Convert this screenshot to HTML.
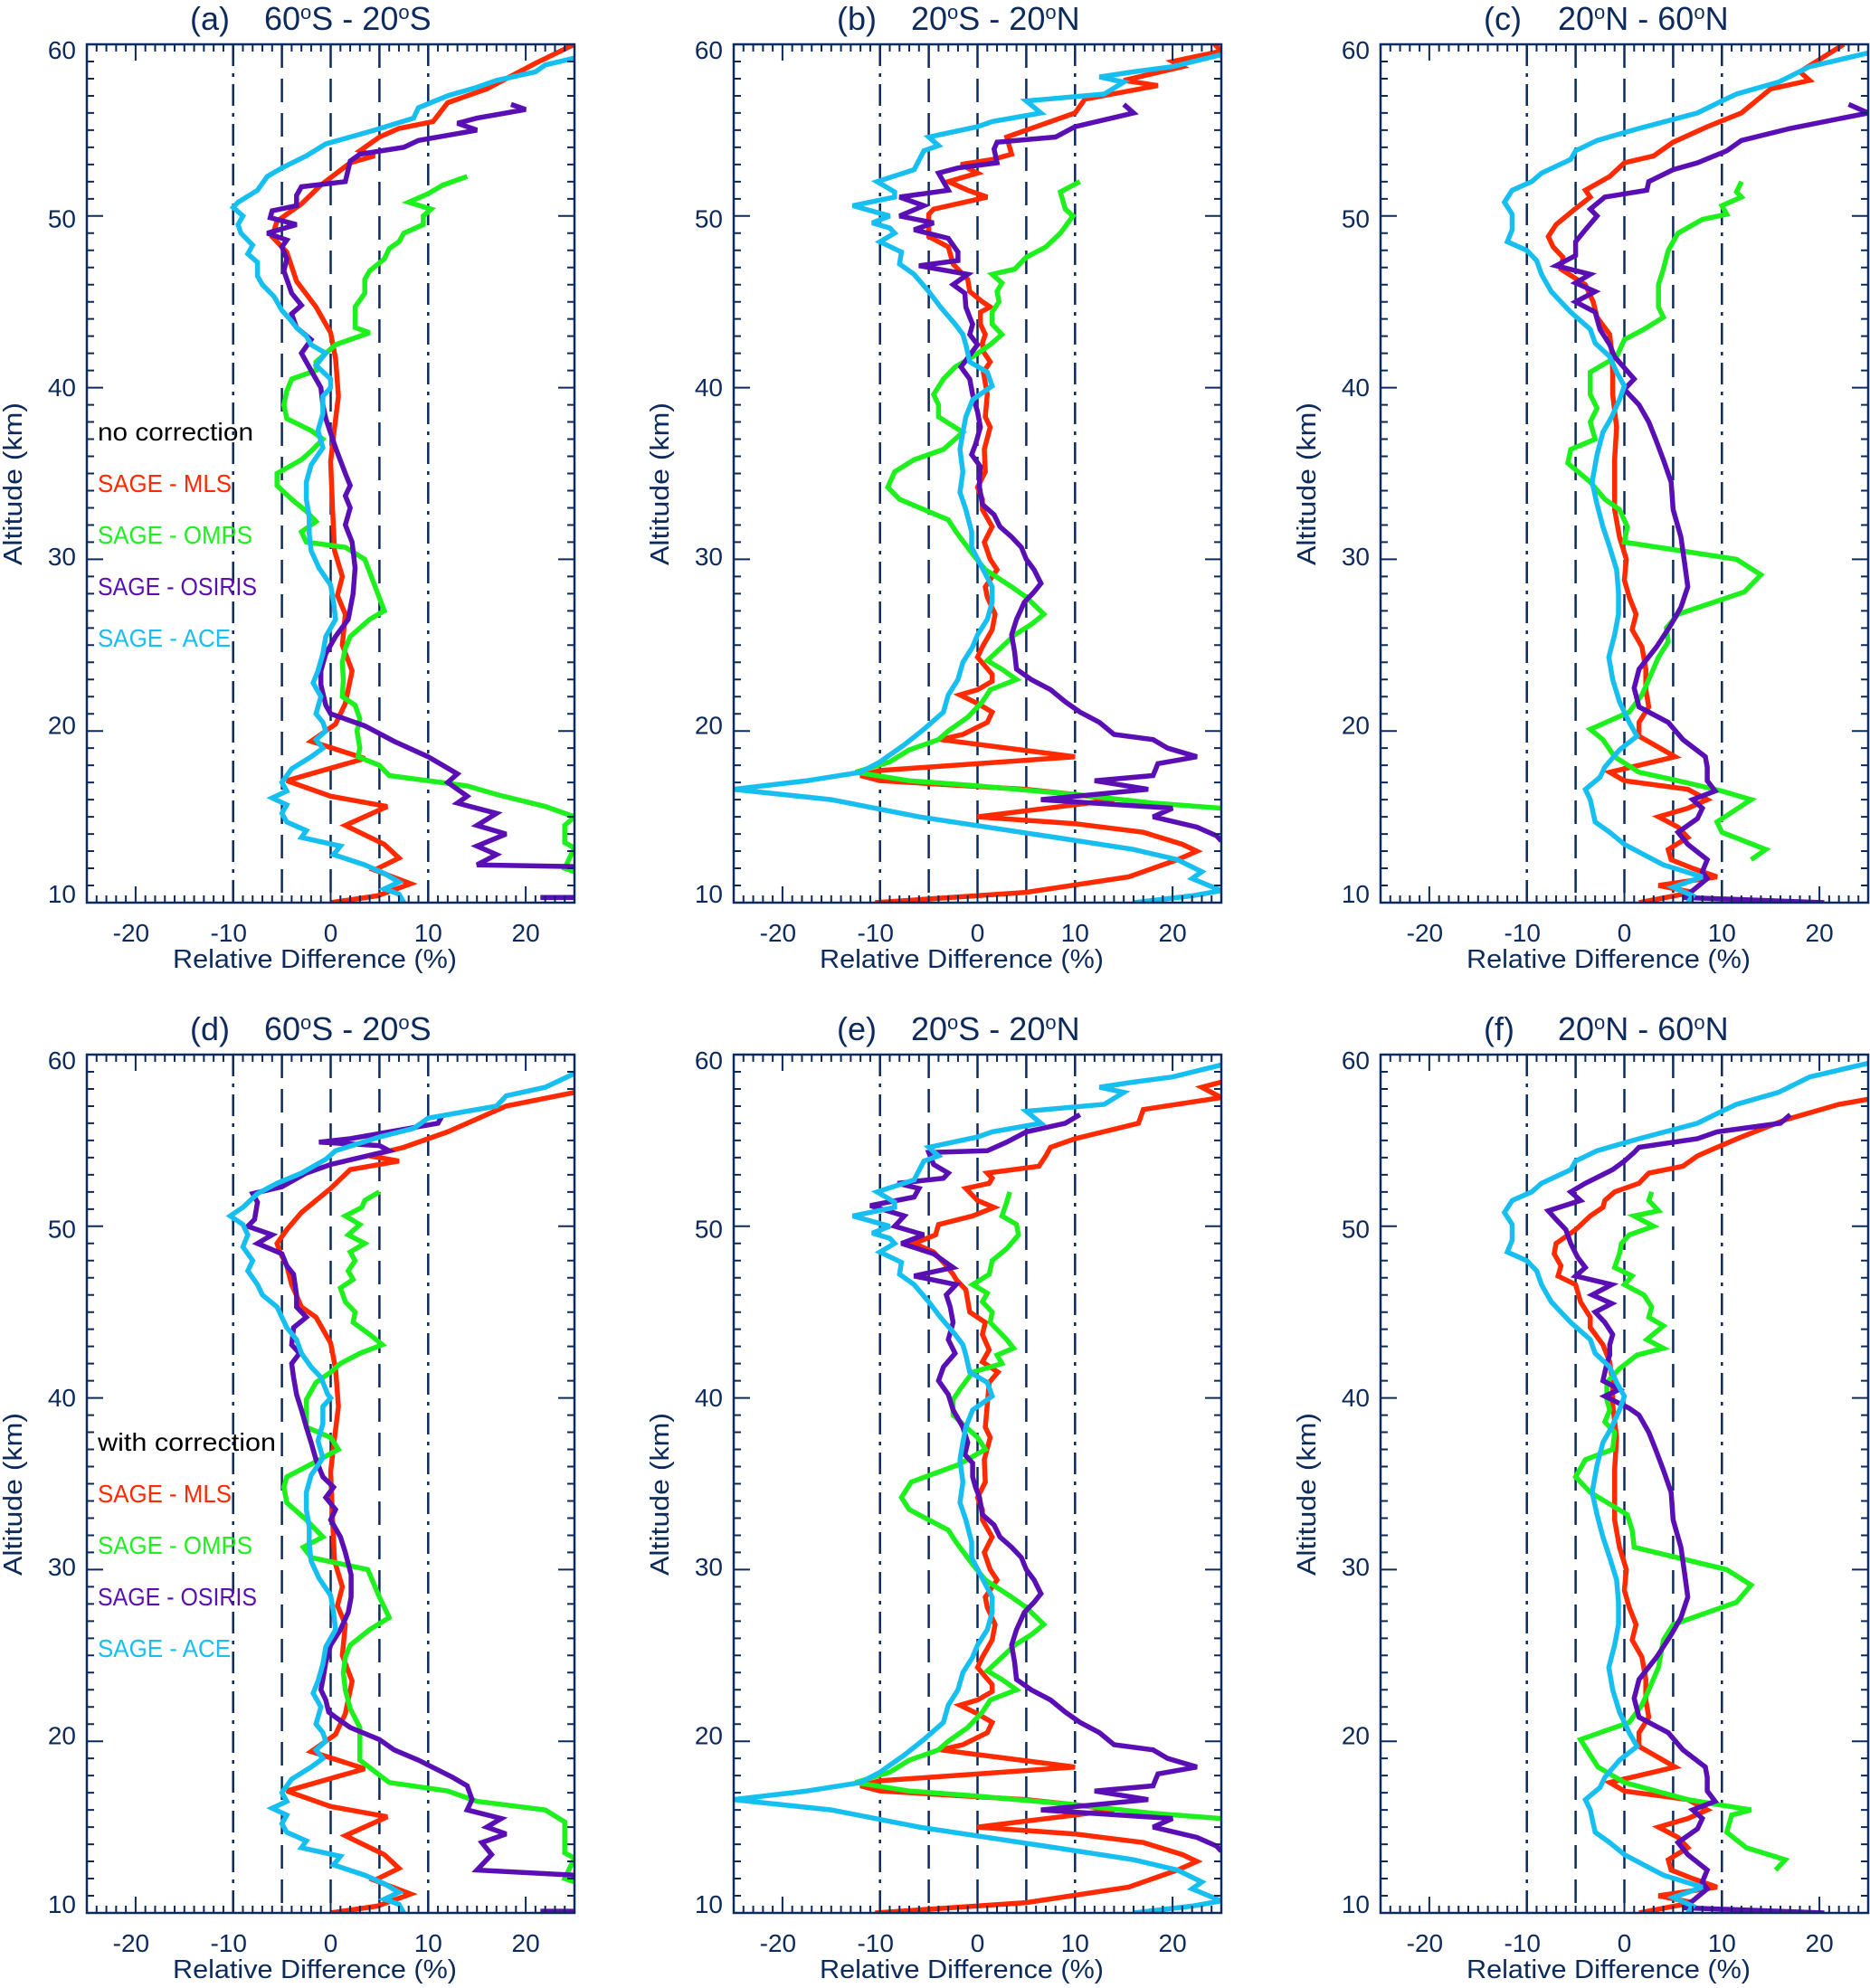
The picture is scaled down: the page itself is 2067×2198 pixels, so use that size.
<!DOCTYPE html>
<html><head><meta charset="utf-8"><style>
html,body{margin:0;padding:0;background:#fff;}
svg{display:block;font-family:"Liberation Sans",sans-serif;}
</style></head>
<body>
<svg id="fig" width="2067" height="2198" viewBox="0 0 2067 2198" xmlns="http://www.w3.org/2000/svg"></svg>
<script>
// ---------- data: [altitude km, relative difference %] ----------
const aMLS=[[60,25],[58.9,21],[57.4,16],[56.6,12],[55.5,10.5],[55.1,7],[54.6,5],[53.8,3],[53.5,4.5],[53.1,2],[51.8,-1],[50.7,-3],[49.7,-5.5],[48.8,-6],[47.9,-4.5],[46.2,-3.5],[44.7,-1.5],[43.2,0],[41.7,0.5],[39.5,0.8],[37.2,0.3],[35.7,0],[32.8,0.2],[30.5,0.4],[29,1.2],[27.9,0.7],[26.8,1.5],[25,1.2],[23.5,2.2],[21.6,1.5],[20.4,0.5],[19.4,-2],[18.4,3.5],[17.1,-4.5],[16.2,0],[15.6,5.8],[14.5,1.5],[13.4,5.5],[12.6,7],[11.9,4.5],[11.1,8.2],[10.4,4.8],[10,0]];
const aOSI=[[56.5,18.5],[56.2,20],[55.7,15],[55.4,13],[55,15],[54.4,9],[54,7.5],[53.6,3],[53.2,2],[52,1.5],[51.7,-3],[51.2,-3.5],[50.6,-3.5],[50.3,-6],[49.9,-6.2],[49.5,-3.5],[49,-6.5],[48.6,-4.5],[48.2,-5],[47.5,-4.5],[46.8,-4.8],[45.5,-4],[44.8,-3],[44.3,-4],[43.5,-3.5],[42.8,-2],[42,-3],[41,-2],[40,-1],[39,-0.8],[38.2,-0.5],[36.5,0.5],[35,1.5],[34.3,2],[33.7,1.5],[33,2],[32,1.5],[31,2.2],[29.5,2.5],[28,2.3],[26.5,1.8],[25.5,0.5],[24.5,-0.5],[23.5,-1],[22.7,-1],[21.5,-0.5],[21,0],[20.3,3.5],[19.4,6.5],[18.5,10],[17.5,13],[17,12],[16.2,14],[15.8,13],[15.2,17],[14.5,15],[14,18],[13.3,15],[12.8,17],[12.2,15],[12.1,25],[null,null],[10.3,21.5],[10.3,25]];
const aOMPS=[[52.3,14],[51.8,11.5],[51.3,10],[50.8,8],[50.4,10.3],[50,9.5],[49.5,9.5],[49,7.5],[48.5,7],[48.1,6],[47.5,5.5],[46.8,4],[46.3,3.5],[45.5,3.5],[44.7,2.5],[44,2.5],[43.5,2.5],[43.2,4],[42.5,0.5],[42,-0.5],[41.5,-1.5],[41,-1.5],[40.5,-4],[39.8,-4.5],[39,-4.8],[38.2,-4.5],[37.5,-2],[37,-0.8],[36.3,-2],[35.8,-3],[35,-5.5],[34.3,-5.5],[33.5,-4],[32.8,-2.5],[32.2,-1.5],[31.6,-3],[31,-2.5],[30.7,1.5],[30,3.5],[28.5,4.5],[27,5.5],[26.5,4],[25.5,2],[24.8,1.5],[24,1.2],[23,1.3],[22,1.2],[21.5,2.5],[20.7,3],[20,2.7],[19,3],[18.5,2.8],[18,5],[17.4,6],[16.8,14],[16.3,17],[15.6,22],[15,25],[14.5,24],[13.5,24],[13.2,25],[12,24],[11.8,25]];
const aACE=[[59.2,25],[58.8,22],[58.4,21],[57.9,17],[57.5,15],[57,12],[56.3,9],[55.7,8.5],[55,4.5],[54.6,2],[54.2,-0.5],[53.5,-2.5],[52.8,-5],[52.3,-6.5],[51.5,-7.5],[50.8,-9.5],[50.5,-10],[50,-9],[49.5,-9.5],[49,-9.2],[48.3,-8],[47.8,-8.5],[47.3,-7.5],[46.5,-7.5],[46,-7],[45.3,-5.8],[44.5,-5],[44,-4.2],[43.5,-3.5],[43,-2.5],[42.5,-2],[42,-0.5],[41.3,-1.5],[40.5,0],[40,0],[39.5,-0.8],[38.5,-0.8],[37.5,-1.3],[36.5,-0.8],[35.5,-2],[34.5,-2.5],[33.5,-2.5],[32.5,-2.2],[31.5,-2.2],[30.5,-2],[29.5,-1.2],[28.5,0],[27.5,0.3],[26.5,0.5],[25.5,-0.5],[24.5,-0.8],[23.5,-1.3],[22.8,-1.8],[22,-1],[21,-1.5],[20.5,-0.8],[20,-0.5],[19.5,-1.5],[19,-0.8],[18.5,-2],[17.8,-4],[17,-5],[16.5,-4.5],[16.1,-6],[15.7,-4.5],[15.2,-5],[14.7,-4.5],[14.2,-2.5],[13.8,-3],[13.3,1],[12.8,0.3],[12.2,3.5],[11.7,5.5],[11.2,7],[10.8,5.5],[10.5,7],[10,7.5]];

const bMLS=[[60,24.3],[59.6,25],[59,20],[58.7,21],[57.9,15],[57.6,18.5],[56.8,11],[56,10],[54.6,3],[53.6,3.5],[53.3,1.6],[53,-1.7],[52.5,0],[52,-3],[51.5,-1],[51.1,1],[50.4,-4.5],[50.1,-5],[48.8,-5],[48.2,-3],[47.2,-2.5],[46.3,-1],[45.6,-0.8],[45,0.5],[44.7,1.3],[44.4,0.3],[43.7,0.3],[43.1,0.8],[42.6,0.5],[42.1,0.6],[41.5,1.3],[40.9,0.6],[39.6,1],[38.3,0.8],[37.7,1.3],[36.4,0.7],[35.1,0.8],[34.2,0],[33.5,0.5],[32.9,0.5],[31.9,1.5],[31,0.7],[30,1.3],[29.4,2],[28.4,0.8],[27.8,1],[26.8,1.8],[25.9,1.5],[24.9,0.5],[24.3,0],[23.3,1.5],[22.9,1.5],[22.4,0],[22.1,-1.8],[21.6,0],[21.1,1.5],[20.5,1],[19.8,-1.5],[19.5,-3.8],[18.5,10],[17.7,-10],[17.4,-12],[17.1,-10],[16.6,5],[16.3,10],[16,14],[15.7,10],[15,0],[14.6,10],[14.1,17],[13.4,21],[13,22.5],[12.5,20.5],[12,18],[11.5,15.5],[10.6,5],[10,-10.5]];
const bOSI=[[56.5,15],[56,16],[55.2,10],[54.6,8],[54.3,2],[53.9,1.7],[53.1,2],[52.8,-2],[52.5,-4],[52,-3.5],[51.5,-3],[51.1,-8],[50.6,-5.5],[50,-8],[49.6,-4.5],[49.2,-6.5],[48.7,-3],[47.9,-2],[47.4,-2],[47.1,-6],[46.6,-1],[46,-2.5],[45.5,-1.3],[44.7,-1.2],[44.1,-0.8],[43.7,-0.5],[43.1,-0.8],[42.5,0],[41.2,-1.7],[40.5,-0.8],[39.6,-0.5],[38.6,0],[37.7,0.3],[36.7,-0.2],[36.1,-0.6],[35.4,0.3],[34.8,0.2],[34.2,0.2],[33.2,0.5],[32.6,1.7],[31.9,2.3],[31.3,3.5],[30.7,4.5],[30,5],[29.4,5.8],[28.6,6.5],[28.1,5.8],[27.5,4.8],[26.5,4],[25.6,3.5],[24.6,3.8],[23.6,4],[23,5.5],[22.4,7.5],[21.7,9],[21.1,10.5],[20.5,12.5],[19.8,14],[19.5,18],[19,19.5],[18.5,22.5],[18.1,18.5],[17.4,18],[17.1,12],[16.6,17.5],[16,6.5],[15.5,20],[15,18],[14.4,22.5],[13.9,24.5],[13.6,25]];
const bOMPS=[[52,10.5],[51.4,8.5],[50.4,9],[50,9.8],[49,8.5],[48.2,7],[47.6,5],[46.9,3.8],[46.6,1.5],[46.1,2.5],[45.6,2],[45,2.2],[44.4,1.5],[43.7,1.5],[43.1,2.5],[42.5,1.3],[41.8,-0.5],[41.2,-2.3],[40.5,-3.5],[39.6,-4.5],[39,-4],[38.3,-4],[37.4,-1.5],[36.4,-3.5],[35.8,-6.5],[35.1,-8.5],[34.2,-9.2],[33.5,-8],[32.9,-5.5],[32.3,-3],[31.6,-2.2],[30.3,-0.5],[29.4,0.8],[28.4,3.5],[27.8,5],[26.8,6.8],[26.2,5.5],[25.6,3.8],[24.9,2.5],[24.1,1],[23.6,2.5],[23,4],[22.4,1.3],[21.7,0.5],[20.8,-1],[20,-3],[19.5,-4],[18.9,-7],[18.2,-9],[17.6,-12.5],[17.1,-7],[16.8,0],[16.3,10],[15.8,18],[15.5,25]];
const bACE=[[59.4,25],[58.7,20],[58.4,16],[58.1,12.5],[57.8,15],[57.1,13],[56.7,5],[56,6.5],[55.5,1.5],[55.2,0],[54.6,-5],[54.1,-4],[53.8,-5.5],[52.7,-6.5],[52,-10.3],[51.4,-8.5],[51.1,-8.5],[50.6,-12.8],[50,-9],[49.6,-10.8],[49.3,-9],[49,-8.5],[48.5,-10],[47.9,-7.8],[47.2,-8],[46.6,-6.5],[45.6,-5],[44.7,-3.8],[43.7,-2.3],[43.1,-1.5],[42.5,-1.2],[41.5,-0.8],[40.9,1],[40.1,1.5],[39.3,-0.5],[38.3,-1.2],[37.4,-1.5],[36.4,-1.8],[35.1,-1.5],[33.9,-1.8],[32.9,-1.2],[31.6,-0.6],[30.7,-0.6],[29.7,0.3],[28.4,1.5],[27.5,1.5],[26.5,1],[25.6,0],[24.9,-0.5],[24,-1.5],[23,-2],[22.1,-3],[21.1,-3.5],[20.1,-5.5],[19.2,-7.5],[18.2,-10],[17.6,-12],[17.1,-17.5],[16.6,-25],[16,-15],[15,-6],[13.8,8],[13.1,16],[12.5,20.5],[11.8,23],[11.4,22],[10.7,25],[10.4,22],[10,16]];

const cMLS=[[60,22.5],[58.4,18],[57.9,19],[57.4,15],[56,12],[55.2,8.5],[54.3,5],[53.5,3],[53.1,0],[52.3,-1.5],[51.5,-4],[51.1,-3.5],[50.3,-5.3],[49.5,-7],[48.8,-7.8],[48.2,-7.3],[47.6,-6.3],[46.9,-6.5],[46,-4],[45,-3.2],[44.1,-2.8],[43.1,-1.5],[42.1,-1.3],[40.9,-1.2],[39.6,-1.2],[37.7,-0.8],[35.8,-1],[34.5,-1],[32.9,-1],[31.3,-0.5],[30,0.2],[28.8,0],[27.8,0.5],[26.8,1.2],[25.9,0.8],[24.9,1.8],[23.6,2.2],[22.4,2.2],[21.4,2.5],[20.5,1.5],[19.7,1.5],[18.5,5.2],[17.6,-1.5],[17.1,0],[16.6,6.5],[16,8.5],[15.5,6.5],[15,3.5],[14.4,5.5],[13.8,6.5],[13.1,4.5],[12.5,4.8],[12,7],[11.5,9.5],[11,3.5],[10.6,7],[10,1.5]];
const cOSI=[[56.5,23],[56,25],[55.1,17],[54.4,12],[53.8,10.5],[53.1,7.5],[52.7,5],[52,2.5],[51.5,2.3],[51.1,-2],[50.4,-3.5],[50,-2.8],[49.2,-4],[48.5,-5],[47.7,-5],[47.1,-7],[46.6,-3.5],[46.1,-5],[45.6,-3],[45,-5],[44.4,-3],[43.4,-2.5],[42.5,-1.5],[41.8,-1],[40.5,1],[39.9,0],[39,1.5],[38,2.5],[37,3.2],[35.8,4],[34.5,4.8],[32.9,5],[31.3,5.8],[29.7,6.2],[28.4,6.5],[27.2,5.8],[26.2,4.8],[24.9,3.3],[23.6,1.5],[22.5,1],[21.4,1.5],[20.5,4.5],[19.5,6],[18.5,8.3],[17.9,8.5],[17.1,8.5],[16.5,9.3],[16,7],[15.5,8],[14.9,7.5],[14.1,5.5],[13.4,6.5],[12.5,8.5],[11.8,8],[11.4,8.5],[10.7,7],[10.3,6],[10,20.5]];
const cOMPS=[[52,12],[51.4,11.5],[51.1,12],[50.6,10],[50.1,10.5],[49.8,8],[49,5.5],[48,4.5],[46.9,4],[46,3.5],[44.7,3.5],[44.1,4],[43.4,2],[42.8,0],[41.8,-0.8],[40.9,-3.5],[39.6,-3.5],[38.8,-2.8],[38,-3.5],[37,-3],[36.4,-5.5],[35.6,-5.8],[34.5,-3.5],[33.5,-2],[32.9,-0.5],[31.9,0.3],[31,0],[30,11.5],[29.1,14],[28.1,12.3],[26.8,5.5],[26,4.3],[25.2,4.5],[24.3,3.5],[23,2.5],[22.1,1.8],[21.1,0.5],[20.1,-3.5],[19.5,-2.2],[18.5,-1],[17.6,1.5],[17.1,5.5],[16.5,10],[16,13],[14.7,9.5],[14.1,10],[13.1,14.5],[12.5,13]];
const cACE=[[59.5,25],[58.7,19],[57.8,15.8],[57.1,11.5],[56.7,10],[56,7.5],[55.1,1.5],[54.4,-2.8],[53.8,-5],[53.3,-5.5],[52.5,-8.5],[52,-9.5],[51.5,-11.5],[50.8,-12.3],[50.1,-11.5],[49.2,-11.5],[48.5,-12],[48,-10],[47.4,-9],[46.6,-8.5],[45.6,-7.5],[45,-6.5],[44.4,-5.5],[43.4,-3.5],[42.6,-3],[41.8,-1.5],[40.9,-0.8],[40.1,0],[39.3,-0.5],[38.3,-1.3],[37.4,-2.2],[36.1,-2.8],[34.5,-3.3],[33.2,-2.8],[31.9,-2.2],[30.7,-1.5],[29.4,-0.8],[28.1,-0.6],[26.8,-0.6],[25.6,-1],[24.3,-1.6],[23,-1.2],[21.7,-0.5],[20.5,0.5],[19.7,1.3],[18.9,-0.5],[17.9,-2],[17.3,-2.5],[16.6,-4],[16,-3.5],[14.7,-3],[14.1,-1.5],[13.4,0],[12.8,2],[12.2,4],[11.5,8],[10.9,5],[10.4,7],[10,6.5]];

// bottom row (with correction): upper parts differ
const dMLSTop=[[57.8,25],[57,18],[55.5,12],[55.1,10],[54.6,7.5],[54.1,4],[53.8,7],[53.3,2],[52.2,0],[51.5,-1.5],[50.8,-3],[49.8,-4.5],[49,-5.5],[48.5,-5.2],[47.7,-4.5],[46.6,-4],[45.3,-3]];
const dOSI=[[56.5,11.5],[56,11],[55.4,5],[55.1,2],[54.9,-1.2],[54.7,5],[54.4,6],[53.6,0],[53.1,-2.5],[52.3,-5],[51.9,-8],[51.4,-7.5],[50.4,-7.8],[50,-8.5],[49.5,-6],[49,-7.5],[48.4,-5],[47.7,-4.5],[47.2,-3.8],[46,-3.5],[45.3,-3.5],[44.7,-2.5],[44.1,-3.8],[43.1,-4],[42.6,-3.2],[42,-4],[41.2,-3.8],[40.2,-3.5],[39.3,-3],[38.3,-2.5],[37.4,-2],[36.4,-1.5],[35.4,-0.8],[34.8,0.3],[34.2,-0.5],[33.5,0.5],[32.9,0],[31.9,1],[31,1.5],[29.7,2.1],[28.4,2.1],[27.5,1.8],[26.5,1],[25.6,0],[24.6,-0.5],[23.6,-0.8],[23,-1],[22.4,-0.5],[21.7,-0.2],[21.4,0.5],[20.8,2],[20.1,5],[19.5,6.5],[18.9,9],[17.9,12.5],[17.4,14],[16.6,14.5],[16,14],[15.5,17.5],[15,16],[14.6,18],[14.1,15.5],[13.4,16.5],[12.5,15],[12.2,25],[null,null],[10.1,21.5],[10.1,25]];
const dOMPSTop=[[52,5],[51.5,3.5],[51.1,3.2],[50.6,1.5],[50.1,3],[49.5,1.8],[49,3.5],[48.5,2],[48,2.5],[47.4,1.8],[46.9,2.3],[46.4,1],[45.6,1.5],[45,2.5],[44.4,2.3],[43.7,4],[43.1,5.3],[42.6,3],[42,1],[41.5,0],[40.9,-1.5],[39.9,-2.5],[39.3,-2.5],[38.3,-2.5],[37.7,0],[37,0.8],[36.2,-1.8],[35.4,-4.5],[34.8,-4.8],[33.9,-4.5],[32.9,-2.5],[31.9,-0.8],[31.3,-2.8],[30.7,-2],[30,3.8],[28.4,5],[27.2,6],[26.5,4],[25.6,2],[24.9,1.5],[24,1.3],[23,1.5],[21.9,2],[20.8,3],[19.8,3],[18.9,3],[17.6,6],[17.1,12],[16.5,15],[16,22],[15.3,24],[14.4,24]];
const dACETop=[[58.9,25],[58.1,22],[57.6,18],[57,17],[56.3,10],[55.7,8.5],[55.2,5],[54.4,0.5],[53.9,-0.5],[53.1,-3],[52.5,-5.5],[51.9,-7.5],[51.1,-9],[50.6,-10.3],[50.1,-9],[49.5,-8.5],[48.8,-9],[48,-8],[47.4,-8.5],[46.6,-7.5],[46,-7],[45.3,-5.5],[44.7,-5],[44.1,-4.5],[43.4,-3.5],[42.6,-3],[41.8,-2],[41.2,-1],[40.2,-0.3]];

const eMLSTop=[[58.4,25],[58.1,23],[57.5,25],[56.8,17],[56,16.5],[55.1,10],[54.6,7.5],[54.1,7],[53.5,6.3],[53.1,1],[52.8,1.5],[52.5,1.2],[52.2,-1.2],[51.5,0],[51.1,1.7],[50.6,-0.5],[50.1,-4],[49.5,-4.3],[49,-6.5],[48.5,-4.5],[47.9,-3.5],[47.2,-2.5],[46.9,-2.2],[46.3,-1.2],[45,-0.8],[44.4,0.8],[43.7,0.5],[42.8,1.2],[42.1,0.5],[41.5,2.1],[40.9,1.2]];
const eOSITop=[[56.5,10.5],[56,9],[55.5,5],[54.9,3],[54.4,1],[54.3,-5],[53.6,-4.5],[53.1,-3],[52.8,-3.5],[52.5,-8.2],[52.2,-6],[51.7,-6.5],[51.2,-11],[50.6,-7.5],[50,-8.5],[49.5,-5.5],[49,-7.8],[48.4,-4.5],[47.6,-2.5],[47.1,-6.5],[46.6,-2.2],[46,-3.2],[45.3,-2.8],[44.4,-2.5],[43.4,-3],[42.6,-2.3],[41.8,-3.5],[41,-4],[40.2,-3],[39.3,-2.5],[38.3,-1.5],[37.4,-1],[36.7,-1.3],[36.2,-0.5],[35.4,-0.5],[34.8,-0.2]];
const eOMPSTop=[[52,3.3],[51.4,3],[50.6,2.5],[50.1,4],[49.5,4.2],[48.7,3],[48,1.5],[47.2,1.2],[46.6,-0.5],[46.1,1],[45.6,0.5],[45,1.5],[44.4,1.3],[43.4,3],[42.9,3.7],[42.5,2],[42,2.5],[41.5,-0.5],[40.5,-1.8],[39.9,-2.5],[39,-2.5],[37.7,0],[37,0.8],[36.1,-2],[35.1,-6.8],[34.2,-7.8],[33.5,-7],[32.9,-5]];

const fMLSTop=[[57.4,25],[57.1,22],[56.2,16.5],[55.2,12],[54.6,9.5],[54.1,7.5],[53.5,6],[53.1,2.5],[52.5,1.5],[52,-1],[51.5,-2],[51.1,-2.2],[50.6,-3.5],[49.8,-5],[49,-7],[48.4,-7.2],[47.7,-6.5],[47.1,-6.8],[46.6,-5],[45.6,-4.5],[44.7,-3.5],[44.1,-3.5],[43.1,-2.2],[42.1,-1.5],[40.9,-1.2]];
const fOSITop=[[56.5,17],[56,16],[55.5,9.5],[55.1,7.5],[54.6,1.5],[54.3,1],[53.8,0],[53.3,-1.2],[52.5,-4],[52,-5.5],[51.5,-4.5],[50.9,-7.8],[50.4,-7],[49.8,-6],[49,-5.5],[48.2,-4.8],[47.6,-4],[47.1,-5],[46.6,-1.3],[46,-3.3],[45.5,-1.3],[45,-3],[44.4,-2],[43.7,-1.2],[43.1,-1.5],[42.5,-1.5],[42,-1.8],[41,-2.2],[40.5,-0.5],[40.1,-2],[39.4,0.5]];
const fOMPSTop=[[52,2.8],[51.5,2.5],[50.9,3.5],[50.6,1],[50,3],[49.5,0.5],[49,-0.3],[48.4,-0.5],[47.6,-1],[47.1,0.8],[46.6,0],[46,2],[45.3,2.8],[44.7,2.5],[44.2,4],[43.4,2.3],[42.9,4],[42.5,1.3],[41.7,-0.5],[40.9,-1.8],[39.9,-1.8],[39.3,-1.5],[38.6,-2],[38,-1],[37,-1.2],[36.4,-4],[35.4,-5],[34.5,-3.5],[33.2,0.3],[32.3,0.8],[31.3,1],[30,10.5],[29.1,13],[28.1,11.5],[26.8,5],[25.9,4]];
const fOMPSBottom=[[24.3,3.5],[23,2.5],[22.1,1.8],[21.1,0.5],[20.1,-4.5],[19.2,-3.5],[18.5,-2.7],[17.6,0],[16.6,6.5],[16,13],[15.7,11],[14.7,10.5],[13.8,12.5],[13.1,16.5],[12.5,15.5]];

// assembled bottom-row series
const dMLS=dMLSTop.concat(aMLS.filter(p=>p[0]<45));
const dOMPS=dOMPSTop.concat(aOMPS.filter(p=>p[0]<14.4));
const dACE=dACETop.concat(aACE.filter(p=>p[0]<40.2));
const eMLS=eMLSTop.concat(bMLS.filter(p=>p[0]<40.9));
const eOSI=eOSITop.concat(bOSI.filter(p=>p[0]<34.8));
const eOMPS=eOMPSTop.concat(bOMPS.filter(p=>p[0]<32.9));
const eACE=bACE;
const fMLS=fMLSTop.concat(cMLS.filter(p=>p[0]<40.9));
const fOSI=fOSITop.concat(cOSI.filter(p=>p[0]<39.4));
const fOMPS=fOMPSTop.concat(fOMPSBottom);
const fACE=cACE;

const panelLabels=['(a)','(b)','(c)','(d)','(e)','(f)'];
const regionStart=[['60','S'],['20','S'],['20','N'],['60','S'],['20','S'],['20','N']];
const regionEnd=[['20','S'],['20','N'],['60','N'],['20','S'],['20','N'],['60','N']];
const xTicks=[-20,-10,0,10,20];
const yTicks=[10,20,30,40,50,60];
const refSolid=[-10,10];   // dash-dot lines
const refDash=[-5,0,5];    // dashed lines
const legendTitles=['no correction','with correction'];
const legendTitleWidths=[172,197];
const legendNames=['SAGE - MLS','SAGE - OMPS','SAGE - OSIRIS','SAGE - ACE'];
const legendWidths=[148,171,176,147];

const panelSeries=[
 [aMLS,aOMPS,aOSI,aACE],[bMLS,bOMPS,bOSI,bACE],[cMLS,cOMPS,cOSI,cACE],
 [dMLS,dOMPS,dOSI,dACE],[eMLS,eOMPS,eOSI,eACE],[fMLS,fOMPS,fOSI,fACE]];

// ---------- drawing ----------
const NS='http://www.w3.org/2000/svg';
const svg=document.getElementById('fig');
const COLORS=['#ff2a00','#1ef01e','#5a0fb4','#17bff0'];
const NAV='#0d2a5c';
const X0=[96,811,1526], Y0=[49,1166], W=539, H=949;
const XMIN=-25,XMAX=25,YMIN=10,YMAX=60;
function mk(tag,attrs,parent){const e=document.createElementNS(NS,tag);for(const k in attrs)e.setAttribute(k,attrs[k]);(parent||svg).appendChild(e);return e;}

for(let p=0;p<6;p++){
  const x0=X0[p%3], y0=Y0[Math.floor(p/3)];
  const sx=v=>x0+(v-XMIN)/(XMAX-XMIN)*W;
  const sy=a=>y0+H-(a-YMIN)/(YMAX-YMIN)*H;
  const g=mk('g',{});
  
  

  const clip=mk('clipPath',{id:'clip'+p},g);
  mk('rect',{x:x0,y:y0,width:W,height:H},clip);

  refSolid.forEach(v=>{const l=mk('line',{x1:sx(v),x2:sx(v),y1:y0,y2:y0+H,stroke:NAV,'stroke-width':2.5,'stroke-dasharray':'24 8 4 8'},g);
    
    });
  refDash.forEach(v=>{const l=mk('line',{x1:sx(v),x2:sx(v),y1:y0,y2:y0+H,stroke:NAV,'stroke-width':2.5,'stroke-dasharray':'26 12'},g);
    
    });

  const sg=mk('g',{'clip-path':'url(#clip'+p+')'},g);
  panelSeries[p].forEach((ser,si)=>{
    let d='',pen=false;
    ser.forEach(pt=>{ if(pt[0]===null){pen=false;return;}
      d+=(pen?'L':'M')+sx(pt[1]).toFixed(1)+','+sy(pt[0]).toFixed(1); pen=true;});
    const path=mk('path',{d:d,fill:'none',stroke:COLORS[si],'stroke-width':5.5,'stroke-linejoin':'miter','stroke-miterlimit':3},sg);
    
    
  });

  const box=mk('rect',{x:x0,y:y0,width:W,height:H,fill:'none',stroke:NAV,'stroke-width':2.5},g);
  
  
  let td='';
  for(let v=XMIN;v<=XMAX;v++){const L=(v%10===0)?18:8;const X=sx(v);td+=`M${X},${y0+H}v${-L}M${X},${y0}v${L}`;}
  for(let a=YMIN;a<=YMAX;a++){const L=(a%10===0)?18:8;const Y=sy(a);td+=`M${x0},${Y}h${L}M${x0+W},${Y}h${-L}`;}
  const ticks=mk('path',{d:td,stroke:NAV,'stroke-width':2,fill:'none'},g);
  
  

  xTicks.forEach(v=>{const t=mk('text',{x:sx(v)-(v<0?5:0),y:y0+H+43,'text-anchor':'middle','font-size':28,fill:NAV},g);t.textContent=String(v);
    
    });
  yTicks.forEach(a=>{const t=mk('text',{x:x0-12,y:sy(a)+16-16*(60-a)/50,'text-anchor':'end','font-size':28,fill:NAV},g);t.textContent=String(a);
    
    });

  const xt=mk('text',{x:x0+252,y:y0+H+72,'text-anchor':'middle','font-size':29,fill:NAV,textLength:314,lengthAdjust:'spacingAndGlyphs'},g);
  xt.textContent='Relative Difference (%)';
  
  
  const yt=mk('text',{x:0,y:0,'text-anchor':'middle','font-size':29,fill:NAV,textLength:180,lengthAdjust:'spacingAndGlyphs',transform:`translate(${x0-72},${y0+486}) rotate(-90)`},g);
  yt.textContent='Altitude (km)';
  
  

  const tl=mk('text',{x:x0+114,y:y0-16,'font-size':36,fill:NAV},g);
  tl.textContent=panelLabels[p];
  
  
  const tt=mk('text',{x:x0+196,y:y0-16,'font-size':36,fill:NAV},g);
  
  
  const parts=[[regionStart[p][0],0,36],['o',-12,22],[regionStart[p][1]+' - '+regionEnd[p][0],12,36],['o',-12,22],[regionEnd[p][1],12,36]];
  parts.forEach(q=>{const s=mk('tspan',{dy:q[1],'font-size':q[2]},tt);s.textContent=q[0];});

  if(p%3===0){
    const lg=mk('g',{},g);
    
    
    const li=p===0?0:1;
    const t0=mk('text',{x:x0+12,y:y0+438,'font-size':28,fill:'#000',textLength:legendTitleWidths[li],lengthAdjust:'spacingAndGlyphs'},lg);
    t0.textContent=legendTitles[li];
    
    
    legendNames.forEach((n,i)=>{const t=mk('text',{x:x0+12,y:y0+438+57*(i+1),'font-size':28,fill:COLORS[i],textLength:legendWidths[i],lengthAdjust:'spacingAndGlyphs'},lg);t.textContent=n;
      
      });
  }
}
</script>
</body></html>
